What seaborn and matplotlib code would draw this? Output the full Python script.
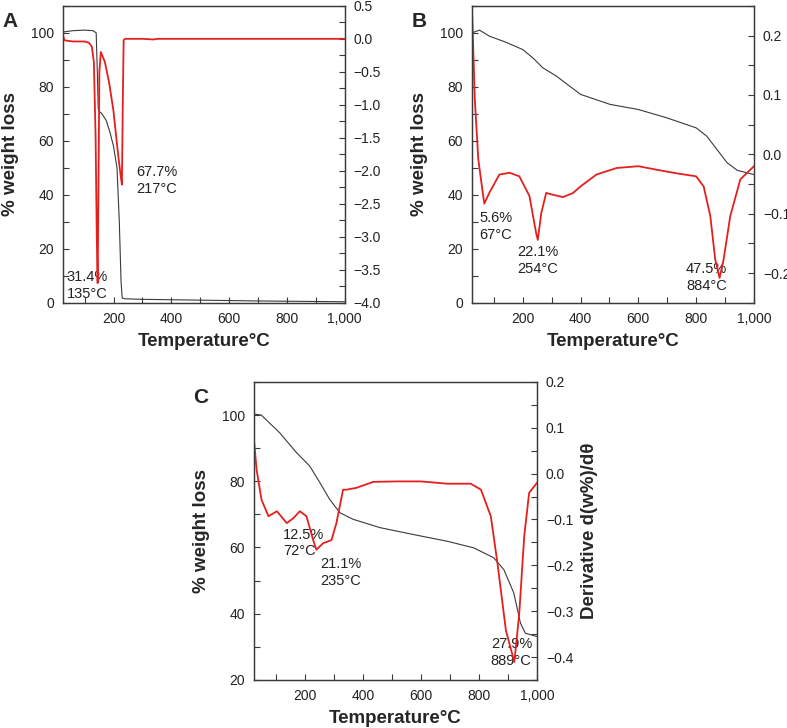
import numpy as np
import pandas as pd
import matplotlib
matplotlib.use("Agg")
import matplotlib.pyplot as plt
from matplotlib.ticker import MultipleLocator, FuncFormatter
import seaborn as sns

sns.set_style("ticks")
plt.rcParams['font.family'] = ['Liberation Sans', 'DejaVu Sans']
plt.rcParams['axes.unicode_minus'] = True

# Panel A - TG (left axis) and DTG (right axis)
a_tg_temp = [25, 60, 100, 129, 140, 144, 147, 150, 160, 175, 188, 200, 212, 220, 226, 230, 240, 300, 500, 700, 1000]
a_tg = [100.3, 100.8, 101.0, 100.8, 100.0, 85.0, 72.0, 71.0, 70.0, 67.5, 63.0, 58.0, 50.0, 30.0, 8.0, 1.8, 1.5, 1.3, 1.0, 0.7, 0.4]
a_dtg_temp = [25, 30, 40, 60, 100, 115, 125, 132, 138, 142, 145, 148, 151, 156, 170, 185, 200, 214, 224, 229, 232, 235, 240, 300, 340, 350, 360, 1000]
a_dtg = [0.05, -0.02, -0.03, -0.04, -0.04, -0.06, -0.12, -0.35, -1.5, -3.0, -3.7, -2.2, -0.5, -0.2, -0.35, -0.67, -1.1, -1.68, -2.05, -2.21, -1.0, -0.02, 0.0, 0.0, -0.01, 0.0, 0.0, 0.0]

# Panel B
b_tg_temp = [25, 50, 84, 142, 200, 235, 270, 316, 400, 502, 600, 699, 800, 837, 872, 907, 942, 1000]
b_tg = [100.0, 101.0, 98.8, 96.5, 93.8, 90.7, 87.0, 84.0, 77.2, 73.5, 71.6, 68.5, 64.8, 61.7, 56.8, 51.9, 49.1, 47.5]
b_dtg_temp = [25, 34, 46, 63, 67, 84, 119, 154, 188, 223, 246, 252, 264, 281, 304, 339, 374, 400, 455, 525, 600, 664, 733, 800, 826, 849, 866, 881, 895, 918, 953, 1000]
b_dtg = [0.235, 0.093, -0.008, -0.070, -0.083, -0.065, -0.034, -0.031, -0.037, -0.070, -0.132, -0.144, -0.099, -0.065, -0.068, -0.072, -0.065, -0.054, -0.034, -0.023, -0.020, -0.026, -0.032, -0.037, -0.054, -0.104, -0.177, -0.208, -0.177, -0.104, -0.042, -0.020]

# Panel C
c_tg_temp = [25, 50, 113, 171, 217, 252, 286, 321, 367, 459, 575, 690, 782, 851, 886, 920, 943, 960, 1000]
c_tg = [100.3, 100.0, 94.7, 88.7, 84.6, 79.6, 74.5, 70.5, 68.5, 66.0, 63.9, 61.9, 59.9, 56.9, 53.3, 46.3, 37.2, 34.1, 33.1]
c_dtg_temp = [25, 34, 51, 75, 104, 138, 161, 183, 206, 229, 240, 263, 292, 309, 332, 344, 378, 436, 517, 600, 691, 772, 807, 841, 864, 893, 922, 939, 956, 973, 1000]
c_dtg = [0.074, 0.009, -0.057, -0.093, -0.082, -0.108, -0.097, -0.082, -0.093, -0.145, -0.166, -0.152, -0.145, -0.108, -0.035, -0.035, -0.031, -0.018, -0.017, -0.017, -0.022, -0.022, -0.035, -0.093, -0.196, -0.342, -0.411, -0.305, -0.137, -0.042, -0.020]

# annotations: (text, temp, weight%) in left-axis coords
a_notes = [("67.7%\n217°C", 278, 51), ("31.4%\n135°C", 38, 12)]
b_notes = [("5.6%\n67°C", 50, 34), ("22.1%\n254°C", 180, 21.5), ("47.5%\n884°C", 765, 15)]
c_notes = [("12.5%\n72°C", 125, 66), ("21.1%\n235°C", 255, 57), ("27.9%\n889°C", 841, 33)]

BLACK = "#3a3a3a"
RED = "#e3201e"

fig = plt.figure(figsize=(7.87, 7.28), dpi=100)

def thousands(v, pos):
    return f"{int(v):,}"

def style_axes(ax, ax2):
    for a in (ax, ax2):
        a.tick_params(direction='in', which='both', labelsize=10, colors=BLACK,
                      labelcolor='#222222', pad=6.5)
        a.tick_params(which='major', length=4, width=0.8)
        a.tick_params(which='minor', length=4, width=0.8)
        for s in a.spines.values():
            s.set_color(BLACK)
            s.set_linewidth(0.9)
    ax.xaxis.set_major_locator(MultipleLocator(200))
    ax.xaxis.set_minor_locator(MultipleLocator(100))
    ax.xaxis.set_major_formatter(FuncFormatter(thousands))
    ax.yaxis.set_major_locator(MultipleLocator(20))
    ax.yaxis.set_minor_locator(MultipleLocator(10))
    ax.set_xlabel("Temperature°C", fontsize=13.5, fontweight='bold', labelpad=5)
    ax.set_ylabel("% weight loss", fontsize=13.5, fontweight='bold', labelpad=8.5)

def panel(rect, tg_t, tg, dtg_t, dtg, ylim, ylim2, step2, notes, letter, right_label=None):
    ax = fig.add_axes(rect)
    ax2 = ax.twinx()
    sns.lineplot(x=tg_t, y=tg, ax=ax, color=BLACK, linewidth=0.8, estimator=None)
    sns.lineplot(x=dtg_t, y=dtg, ax=ax2, color=RED, linewidth=1.3, estimator=None)
    ax.set_xlim(25, 1000)
    ax.set_ylim(*ylim)
    ax2.set_ylim(*ylim2)
    ax2.yaxis.set_major_locator(MultipleLocator(step2))
    ax2.yaxis.set_minor_locator(MultipleLocator(step2 / 2))
    ax2.yaxis.set_major_formatter(FuncFormatter(lambda v, p: f"{v:.1f}".replace("-", "\u2212")))
    style_axes(ax, ax2)
    if right_label:
        ax2.set_ylabel(right_label, fontsize=13.5, fontweight='bold', labelpad=5.5)
    for txt, x, y in notes:
        ax.text(x, y, txt, fontsize=10.5, color='#222222', va='top', ha='left', linespacing=1.25)
    ax.text(-0.215, 0.93, letter, transform=ax.transAxes, fontsize=15, fontweight='bold')
    return ax, ax2

panel([0.080, 0.584, 0.358, 0.408], a_tg_temp, a_tg, a_dtg_temp, a_dtg,
      (0, 110), (-4.0, 0.5), 0.5, a_notes, "A")
panel([0.600, 0.584, 0.358, 0.408], b_tg_temp, b_tg, b_dtg_temp, b_dtg,
      (0, 110), (-0.25, 0.25), 0.1, b_notes, "B")
panel([0.3227, 0.066, 0.3596, 0.4094], c_tg_temp, c_tg, c_dtg_temp, c_dtg,
      (20, 110), (-0.45, 0.2), 0.1, c_notes, "C", right_label="Derivative d(w%)/dθ")

fig.savefig("out.png", dpi=100)
